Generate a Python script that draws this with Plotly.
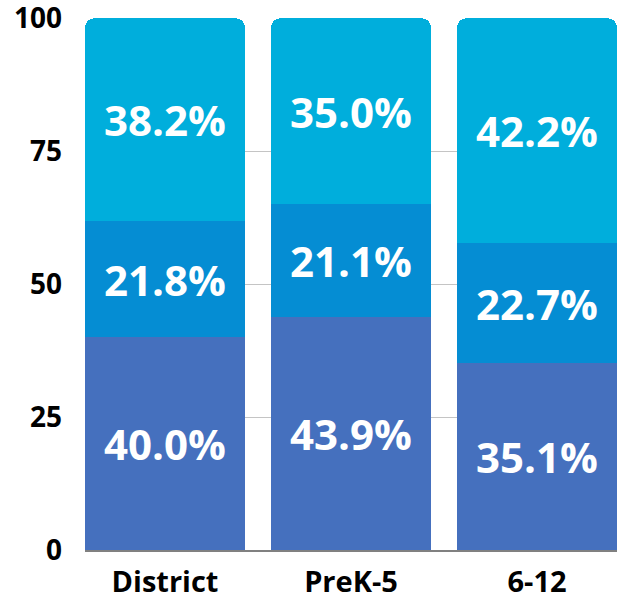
import plotly.graph_objects as go

categories = ["District", "PreK-5", "6-12"]
bottom_vals = [40.0, 43.9, 35.1]
middle_vals = [21.8, 21.1, 22.7]
top_vals = [38.2, 35.0, 42.2]
y_ticks = [0, 25, 50, 75, 100]

colors = ["#4570BE", "#058DD3", "#00AEDC"]
series = [bottom_vals, middle_vals, top_vals]

fig = go.Figure()
for vals, col in zip(series, colors):
    fig.add_trace(go.Bar(
        x=categories, y=vals,
        marker=dict(color=col, line=dict(width=0)),
        text=[f"{v:.1f}%" for v in vals],
        texttemplate="%{text}",
        textposition="inside",
        insidetextanchor="middle",
        textangle=0,
        constraintext="none",
        insidetextfont=dict(family="Open Sans", size=42, color="white", weight="bold"),
        hoverinfo="skip",
    ))

fig.update_layout(
    barmode="stack",
    bargap=0.14,
    barcornerradius=9,
    width=619, height=597,
    margin=dict(l=85, r=2, t=18, b=47, autoexpand=False),
    paper_bgcolor="white", plot_bgcolor="white",
    showlegend=False,
    font=dict(family="Open Sans", color="black"),
)
fig.update_xaxes(
    range=[-0.43, 2.43],
    automargin=False,
    showline=True, linecolor="#808080", linewidth=1.5,
    showgrid=False,
    tickfont=dict(family="Open Sans", size=29, color="black", weight="bold"),
    ticklabelstandoff=6,
    ticklabeloverflow="allow",
)
fig.update_yaxes(
    range=[0, 100.05],
    automargin=False,
    tickvals=y_ticks,
    showgrid=True, gridcolor="#C4C4C4", gridwidth=1,
    zeroline=False,
    tickfont=dict(family="Open Sans", size=28, color="black", weight="bold"),
    ticklabelstandoff=22,
    ticklabeloverflow="allow",
)

fig.write_html(
    "out.html",
    config={"displayModeBar": False, "staticPlot": True},
    post_script="document.body.style.margin='0';document.body.style.overflow='hidden';",
)
